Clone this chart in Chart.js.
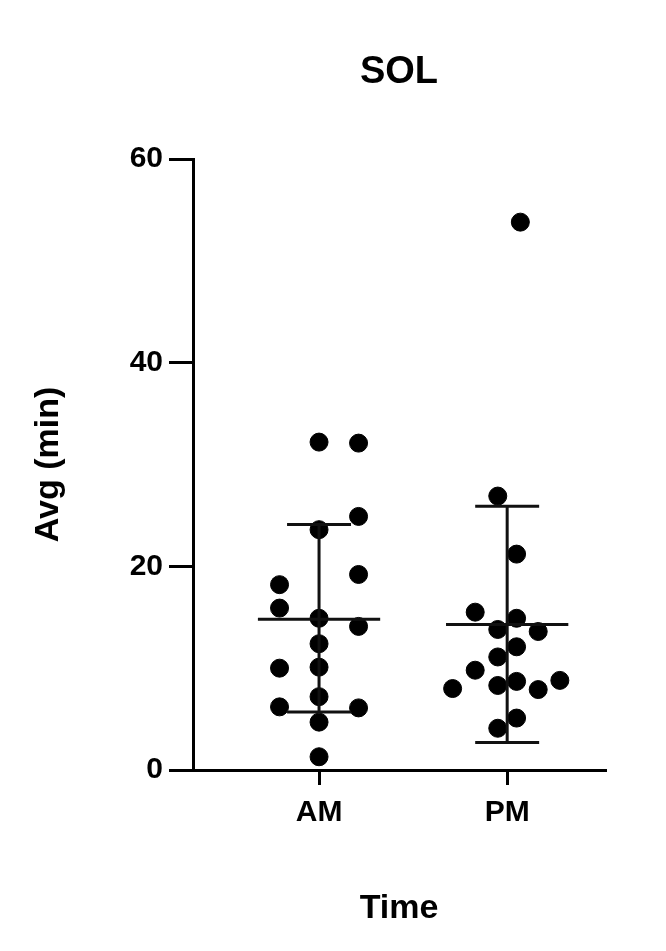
<!DOCTYPE html>
<html>
<head>
<script src="https://cdn.jsdelivr.net/npm/chart.js@4"></script>
<style>body{margin:0;background:#fff}</style>
</head>
<body>
<div style="width:666px;height:951px"><canvas id="myChart"></canvas></div>
<script>
const ctx = document.getElementById('myChart');

var categories = ['AM', 'PM']
var amX = [1, 1.21, 1.21, 1, 1.21, 0.79, 0.79, 1, 1.21, 1, 0.79, 1, 1, 0.79, 1.21, 1, 1]
var amY = [32.2, 32.1, 24.9, 23.6, 19.2, 18.2, 15.9, 14.9, 14.1, 12.4, 10.0, 10.1, 7.2, 6.2, 6.1, 4.7, 1.3]
var pmX = [2.07, 1.95, 2.05, 1.83, 2.05, 1.95, 2.165, 2.05, 1.95, 1.83, 1.71, 1.95, 2.05, 2.165, 2.28, 2.05, 1.95]
var pmY = [53.8, 26.9, 21.2, 15.5, 14.9, 13.8, 13.6, 12.1, 11.1, 9.8, 8.0, 8.3, 8.7, 7.9, 8.8, 5.1, 4.1]
var means = [14.8, 14.3]
var sdHigh = [24.1, 25.9]
var sdLow = [5.7, 2.7]
var yTicks = [0, 20, 40, 60]
var chartTitle = 'SOL'

var pts = []
for (var i = 0; i < amX.length; i++) pts.push({x: amX[i], y: amY[i]})
for (var i = 0; i < pmX.length; i++) pts.push({x: pmX[i], y: pmY[i]})

// mean line, SD whisker and caps, separated by gaps
var lines = []
for (var g = 0; g < 2; g++) {
  var c = g + 1
  lines.push({x: c - 0.325, y: means[g]}, {x: c + 0.325, y: means[g]}, {x: NaN, y: null})
  lines.push({x: c, y: sdLow[g]}, {x: c, y: sdHigh[g]}, {x: NaN, y: null})
  lines.push({x: c - 0.17, y: sdHigh[g]}, {x: c + 0.17, y: sdHigh[g]}, {x: NaN, y: null})
  lines.push({x: c - 0.17, y: sdLow[g]}, {x: c + 0.17, y: sdLow[g]}, {x: NaN, y: null})
}

var bold = (s) => ({family: 'Liberation Sans', size: s, weight: 'bold'})

// title centred over the plot area, not the whole canvas
var titlePlugin = {
  id: 'plotTitle',
  afterDraw(chart) {
    var c = chart.ctx, a = chart.chartArea
    c.save()
    c.font = 'bold 38px "Liberation Sans"'
    c.fillStyle = '#000'
    c.textAlign = 'center'
    c.textBaseline = 'middle'
    c.fillText(chartTitle, (a.left + a.right) / 2, 73)
    c.restore()
  }
}

new Chart(ctx, {
  type: 'scatter',
  data: {
    datasets: [
      {data: pts, backgroundColor: '#000', borderColor: '#000', pointRadius: 9, order: 2},
      {type: 'line', data: lines, borderColor: '#111', borderWidth: 3, pointRadius: 0, spanGaps: false, order: 1}
    ]
  },
  plugins: [titlePlugin],
  options: {
    animation: false,
    responsive: true,
    maintainAspectRatio: false,
    layout: {padding: {right: 61, left: 0, bottom: 0, top: 159}},
    plugins: {
      legend: {display: false},
      tooltip: {enabled: false}
    },
    scales: {
      x: {
        min: 0.33, max: 2.52,
        afterBuildTicks: (s) => { s.ticks = [{value: 1}, {value: 2}] },
        afterFit: (s) => { s.height = 181 },
        grid: {drawOnChartArea: false, color: '#000', lineWidth: 3, tickLength: 15},
        border: {color: '#000', width: 3},
        ticks: {color: '#000', font: bold(30), padding: 10, callback: (v) => categories[Math.round(v) - 1]},
        title: {display: true, text: 'Time', color: '#000', font: bold(34), padding: {top: 0, bottom: 22}}
      },
      y: {
        min: 0, max: 60,
        afterBuildTicks: (s) => { s.ticks = yTicks.map(v => ({value: v})) },
        afterFit: (s) => { s.width = 193 },
        grid: {drawOnChartArea: false, color: '#000', lineWidth: 3, tickLength: 24},
        border: {color: '#000', width: 3},
        ticks: {color: '#000', font: bold(30), padding: 6},
        title: {display: true, text: 'Avg (min)', color: '#000', font: bold(34), padding: {top: 28, bottom: 20}}
      }
    }
  }
});
</script>
</body>
</html>
